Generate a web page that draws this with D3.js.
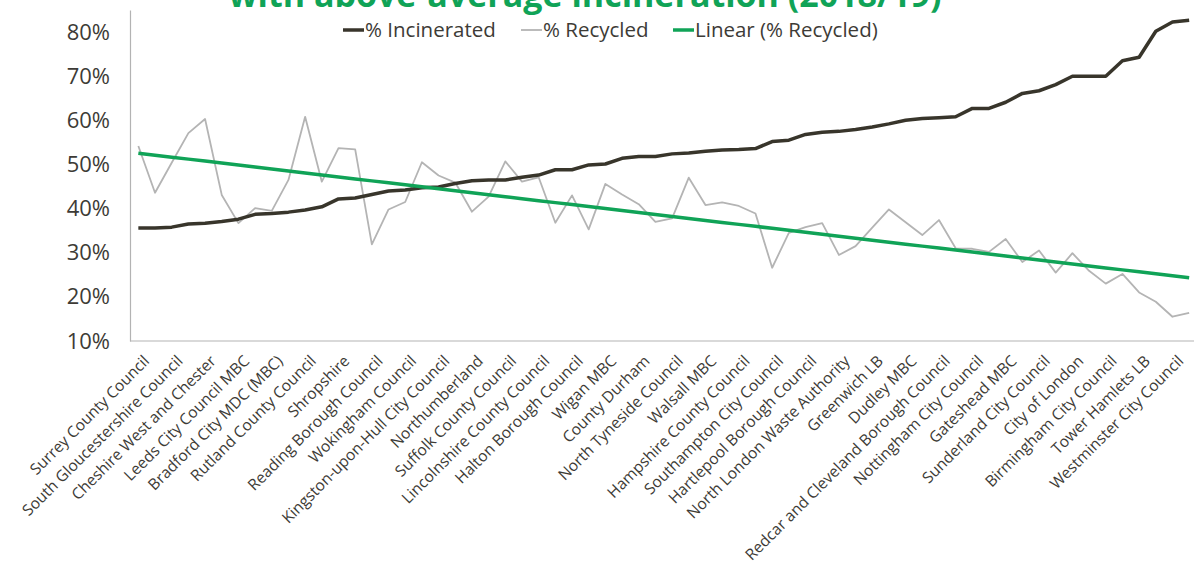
<!DOCTYPE html>
<html>
<head>
<meta charset="utf-8">
<script src="https://cdn.jsdelivr.net/npm/d3@7"></script>
<style>
body { margin: 0; background: #fff; }
text { font-family: "Open Sans", sans-serif; }
</style>
</head>
<body>
<div id="chart"></div>
<script>
"use strict"

// only every other authority is labelled on the axis
const labels = [
    "Surrey County Council", "South Gloucestershire Council", "Cheshire West and Chester",
    "Leeds City Council MBC", "Bradford City MDC (MBC)", "Rutland County Council",
    "Shropshire", "Reading Borough Council", "Wokingham Council",
    "Kingston-upon-Hull City Council", "Northumberland", "Suffolk County Council",
    "Lincolnshire County Council", "Halton Borough Council", "Wigan MBC",
    "County Durham", "North Tyneside Council", "Walsall MBC",
    "Hampshire County Council", "Southampton City Council", "Hartlepool Borough Council",
    "North London Waste Authority", "Greenwich LB", "Dudley MBC",
    "Redcar and Cleveland Borough Council", "Nottingham City Council", "Gateshead MBC",
    "Sunderland City Council", "City of London", "Birmingham City Council",
    "Tower Hamlets LB", "Westminster City Council"
];

const incinerated = [
    35.6, 35.6, 35.8, 36.5, 36.7, 37.1, 37.6, 38.7, 38.9, 39.2,
    39.7, 40.4, 42.2, 42.4, 43.2, 44.0, 44.2, 44.7, 44.9, 45.7,
    46.3, 46.5, 46.5, 47.1, 47.6, 48.8, 48.8, 49.9, 50.1, 51.4,
    51.8, 51.8, 52.4, 52.6, 53.0, 53.3, 53.4, 53.6, 55.2, 55.5,
    56.8, 57.3, 57.5, 57.9, 58.5, 59.2, 60.0, 60.4, 60.6, 60.8,
    62.7, 62.7, 64.1, 66.1, 66.7, 68.1, 70.0, 70.0, 70.0, 73.5,
    74.3, 80.2, 82.3, 82.7
];

const recycled = [
    54.2, 43.6, 50.4, 57.1, 60.3, 43.1, 36.7, 40.1, 39.5, 46.5,
    60.8, 46.1, 53.7, 53.4, 31.9, 39.8, 41.5, 50.5, 47.5, 45.9,
    39.3, 42.7, 50.7, 46.1, 47.1, 36.8, 43.0, 35.3, 45.6, 43.2,
    41.0, 37.0, 37.8, 47.0, 40.8, 41.4, 40.6, 38.9, 26.6, 34.5,
    35.8, 36.7, 29.5, 31.5, 35.7, 39.8, 36.9, 34.0, 37.4, 31.0,
    30.9, 30.2, 33.1, 27.9, 30.5, 25.5, 29.9, 25.9, 23.0, 25.2,
    21.0, 18.9, 15.5, 16.4
];

const yTicks = [10, 20, 30, 40, 50, 60, 70, 80];

const titleText = "with above-average incineration (2018/19)";

const colInc = "#38352b";
const colRec = "#b4b4b4";
const colTrend = "#10a357";
const colText = "#3d3b36";

drawChart();

function drawChart(){
    const W = 1194, H = 567;
    const plotLeft = 130, plotRight = 1197.5, plotTop = 10, plotBottom = 341;

    const svg = d3.select("#chart").append("svg")
        .attr("width", W)
        .attr("height", H);

    const idx = d3.range(incinerated.length);

    const xScale = d3.scaleBand()
        .domain(idx)
        .range([plotLeft, plotRight])
        .paddingInner(0).paddingOuter(0);
    const xc = i => xScale(i) + xScale.bandwidth()/2;

    const yScale = d3.scaleLinear()
        .domain([10, 85])
        .range([plotBottom, plotTop]);

    // title (its first line is cropped away in the original)
    svg.append("text")
        .attr("x", 585)
        .attr("y", 7)
        .attr("text-anchor", "middle")
        .style("font-size", "34px")
        .style("font-weight", "bold")
        .style("fill", colTrend)
        .text(titleText);

    // y axis
    const yAxis = d3.axisLeft(yScale)
        .tickValues(yTicks)
        .tickSize(0)
        .tickPadding(20)
        .tickFormat(d => d + "%");
    const gy = svg.append("g")
        .attr("transform", `translate(${plotLeft},0)`)
        .call(yAxis);
    gy.select(".domain").attr("stroke", "#b3b3b3").attr("stroke-width", 1.2);
    gy.selectAll("text")
        .style("font-size", "22px")
        .style("fill", colText);

    // x axis, every second category labelled
    const xAxis = d3.axisBottom(xScale)
        .tickValues(d3.range(0, idx.length, 2))
        .tickSize(0)
        .tickFormat(i => labels[i/2]);
    const gx = svg.append("g")
        .attr("transform", `translate(0,${plotBottom})`)
        .call(xAxis);
    gx.select(".domain").attr("stroke", "#b3b3b3").attr("stroke-width", 1.2)
        .attr("d", `M${plotLeft},0H${W}`);
    gx.selectAll("text")
        .attr("text-anchor", "end")
        .attr("x", 0).attr("y", 0).attr("dy", 0)
        .attr("transform", "translate(12,21) rotate(-45)")
        .style("font-size", "15.6px")
        .style("fill", colText);

    // linear trend of recycled
    const mx = d3.mean(idx), my = d3.mean(recycled);
    const slope = d3.sum(idx, i => (i - mx)*(recycled[i] - my)) / d3.sum(idx, i => (i - mx)**2);
    const icpt = my - slope*mx;
    const trend = idx.map(i => icpt + slope*i);

    const line = d3.line()
        .x((d, i) => xc(i))
        .y(d => yScale(d));

    svg.append("path")
        .datum(recycled)
        .attr("d", line)
        .attr("fill", "none")
        .attr("stroke", colRec)
        .attr("stroke-width", 1.8)
        .attr("stroke-linejoin", "round");

    svg.append("path")
        .datum(incinerated)
        .attr("d", line)
        .attr("fill", "none")
        .attr("stroke", colInc)
        .attr("stroke-width", 3.5)
        .attr("stroke-linejoin", "round");

    svg.append("path")
        .datum(trend)
        .attr("d", line)
        .attr("fill", "none")
        .attr("stroke", colTrend)
        .attr("stroke-width", 3.5);

    // legend
    const legend = [
        {name: "% Incinerated", color: colInc, w: 3.5, x: 343},
        {name: "% Recycled", color: colRec, w: 1.8, x: 521},
        {name: "Linear (% Recycled)", color: colTrend, w: 3.5, x: 673}
    ];
    const lg = svg.append("g").selectAll("g")
        .data(legend)
        .enter().append("g")
            .attr("transform", d => `translate(${d.x},30)`);
    lg.append("line")
        .attr("x1", 0).attr("x2", 21)
        .attr("stroke", d => d.color)
        .attr("stroke-width", d => d.w);
    lg.append("text")
        .attr("x", 22)
        .attr("y", 7)
        .style("font-size", "20.5px")
        .style("fill", colText)
        .text(d => d.name);
}
</script>
</body>
</html>
